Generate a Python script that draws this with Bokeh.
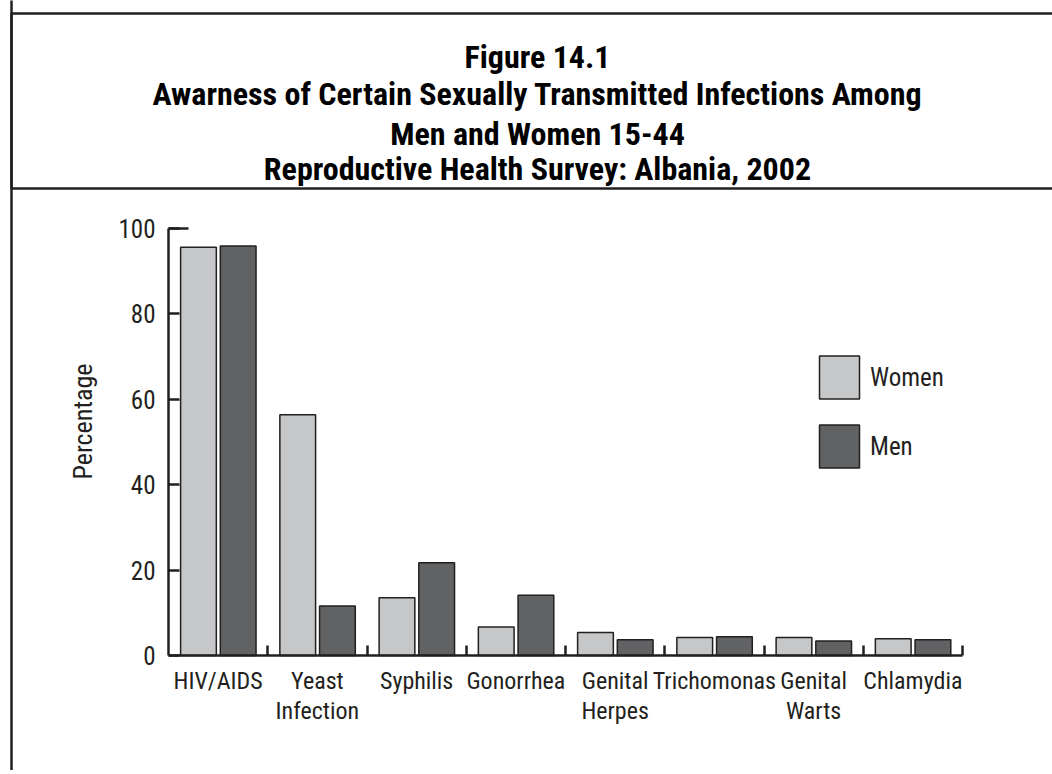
from bokeh.plotting import figure
from bokeh.models import (Range1d, FixedTicker, Label, PolyAnnotation, Legend,
                          LegendItem, ColumnDataSource)
from bokeh.transform import dodge
from bokeh.embed import file_html
from bokeh.resources import INLINE

# ---- data ----
categories = ["HIV/AIDS", "Yeast\nInfection", "Syphilis", "Gonorrhea",
              "Genital\nHerpes", "Trichomonas", "Genital\nWarts", "Chlamydia"]
women = [95.6, 56.4, 13.5, 6.7, 5.4, 4.2, 4.2, 3.9]
men = [95.9, 11.6, 21.7, 14.1, 3.7, 4.4, 3.4, 3.7]
y_ticks = [0, 20, 40, 60, 80, 100]
series = ["Women", "Men"]
title_lines = ["Figure 14.1",
               "Awarness of Certain Sexually Transmitted Infections Among",
               "Men and Women 15-44",
               "Reproductive Health Survey: Albania, 2002"]
y_label = "Percentage"

# ---- style ----
FONT = "Roboto Condensed"
INK = "#231f20"
COLORS = {"Women": "#c6c7c9", "Men": "#616264"}

W, H = 1052, 770
# plot area in canvas pixels
L, R, T, B = 168, 962, 228, 655
n = len(categories)
ymax = 100
sx = (R - L) / n
sy = (B - T) / ymax

xs = [i + 0.5 for i in range(n)]
src = ColumnDataSource(dict(x=xs, Women=women, Men=men))

p = figure(width=W, height=H, output_backend="svg", toolbar_location=None,
           x_range=Range1d(-L / sx, (W - L) / sx),
           y_range=Range1d(-(H - B) / sy, ymax + T / sy),
           min_border=0)
p.xgrid.visible = False
p.ygrid.visible = False
p.outline_line_color = None
p.background_fill_color = "white"
p.border_fill_color = "white"

renderers = {}
offsets = {"Women": -0.198, "Men": 0.202}
for s in series:
    renderers[s] = p.vbar(x=dodge("x", offsets[s], range=p.x_range), top=s,
                          width=0.36, bottom=0, source=src,
                          fill_color=COLORS[s], line_color=INK, line_width=1.5)

# x axis: separators as minor ticks, labels at centres
xa = p.xaxis[0]
xa.fixed_location = 0
xa.bounds = (0, n)
xa.ticker = FixedTicker(ticks=xs, minor_ticks=list(range(1, n + 1)))
xa.major_label_overrides = {x: c for x, c in zip(xs, categories)}
xa.major_tick_in = 0
xa.major_tick_out = 0
xa.minor_tick_in = 10
xa.minor_tick_out = 0
xa.minor_tick_line_width = 2.5
xa.minor_tick_line_color = INK
xa.axis_line_width = 2.5
xa.axis_line_color = INK
xa.major_label_standoff = 11
xa.major_label_text_font = FONT
xa.major_label_text_font_size = "24px"
xa.major_label_text_line_height = 1.1
xa.major_label_text_color = INK

ya = p.yaxis[0]
ya.fixed_location = 0
ya.bounds = (0, ymax)
ya.ticker = FixedTicker(ticks=y_ticks, minor_ticks=[100])
ya.major_tick_in = 11
ya.major_tick_out = 0
ya.minor_tick_in = 20
ya.minor_tick_out = 0
ya.major_tick_line_width = 2.5
ya.minor_tick_line_width = 2.5
ya.major_tick_line_color = INK
ya.minor_tick_line_color = INK
ya.axis_line_width = 2.5
ya.axis_line_color = INK
ya.major_label_standoff = 13
ya.major_label_text_font = FONT
ya.major_label_text_font_size = "25px"
ya.major_label_text_color = INK

# legend
legend = Legend(items=[LegendItem(label=s, renderers=[renderers[s]]) for s in series],
                location=(814, H - 473), glyph_width=50, glyph_height=54, spacing=15,
                padding=0, margin=0, label_standoff=6,
                border_line_color=None, background_fill_alpha=0,
                label_text_font=FONT, label_text_font_size="25px",
                label_text_color=INK)
p.add_layout(legend)

# y axis title
p.add_layout(Label(x=82, y=H - 421, x_units="screen", y_units="screen", text=y_label,
                   angle=90, angle_units="deg", text_align="center",
                   text_baseline="middle", text_font=FONT,
                   text_font_size="26px", text_color=INK))

# title block (canvas pixels, y measured from bottom)
baselines = [56.7, 93.3, 133.3, 168.3]
for t, b in zip(title_lines, baselines):
    p.add_layout(Label(x=537, y=H - b, x_units="screen", y_units="screen", text=t,
                       text_align="center", text_baseline="alphabetic",
                       text_font=FONT, text_font_style="bold",
                       text_font_size="32px", text_color="black"))

# frame lines
p.add_layout(PolyAnnotation(xs=[11, 11, 3000, 3000], ys=[-3000, H - 13, H - 13, -3000],
                            xs_units="screen", ys_units="screen",
                            fill_alpha=0, line_color=INK, line_alpha=1, line_width=2.5))
p.add_layout(PolyAnnotation(xs=[11, 11, 3000, 3000], ys=[3000, H - 188, H - 188, 3000],
                            xs_units="screen", ys_units="screen",
                            fill_alpha=0, line_color=INK, line_alpha=1, line_width=2.5))

open("out.html", "w").write(file_html(p, INLINE))
